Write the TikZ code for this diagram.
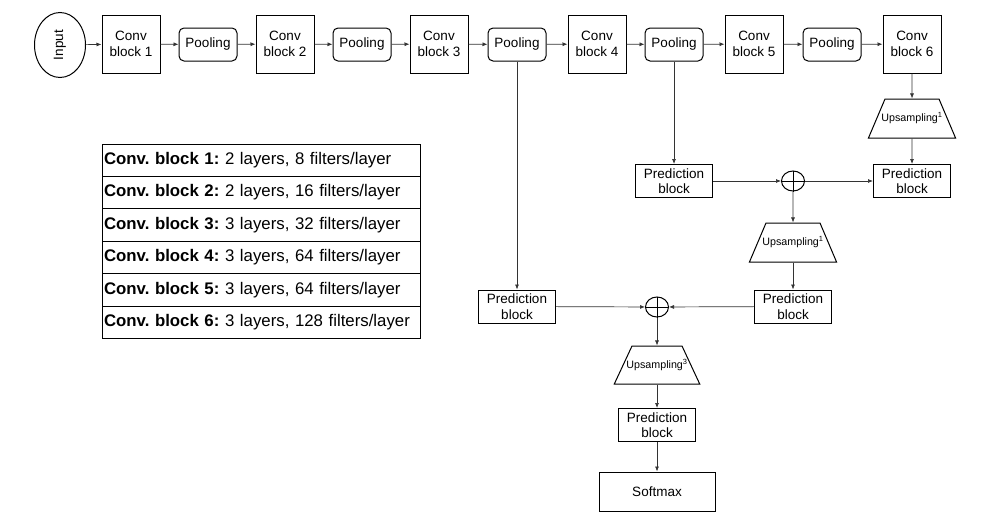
\documentclass[tikz,border=0pt]{standalone}
\usepackage{fontspec}
\setmainfont{Liberation Sans}
\usetikzlibrary{shapes.geometric,arrows.meta}
\frenchspacing
\begin{document}
\begin{tikzpicture}[x=1pt,y=-1pt,
	convstyle/.style={draw,line width=1pt,minimum width=58,minimum height=58,inner sep=0,align=center,font=\fontsize{13.5}{15.6}\selectfont},
	poolstyle/.style={draw,line width=1pt,rounded corners=5,minimum width=58,minimum height=33,inner sep=0,font=\fontsize{13.5}{15.6}\selectfont},
	predstyle/.style={draw,line width=1pt,minimum width=77,minimum height=33,inner sep=0,align=center,font=\fontsize{13.5}{15.6}\selectfont},
	upstyle/.style={draw,line width=1pt,trapezium,trapezium angle=67,inner xsep=0,inner ysep=14,text height=8.5pt,text depth=2.5pt,font=\fontsize{10.7}{12}\selectfont},
	sumstyle/.style={draw,line width=1pt,ellipse,minimum width=23,minimum height=20,inner sep=0},
	rowstyle/.style={draw,line width=0.9pt,minimum height=32.4,text width=314,inner xsep=2,inner ysep=0,align=left,font=\fontsize{16.8}{18}\selectfont},
	arr/.style={-{Latex[length=5pt,width=4pt]},line width=0.7pt,black!80}]
	\useasboundingbox (0,0) rectangle (996,530);

	\node [draw,line width=1pt,ellipse,minimum width=51,minimum height=65,inner sep=0] (in) at (60,45)
		{\rotatebox{90}{\fontsize{13.5}{15.6}\selectfont Input}};
	\foreach \i/\x in {1/131,2/285,3/439,4/597,5/754,6/912}
		\node [convstyle] (c\i) at (\x,44) {Conv\\block \i};
	\foreach \i/\x in {1/208,2/362,3/517,4/674,5/832}
		\node [poolstyle] (p\i) at (\x,44.5) {Pooling};

	\draw [arr] (in) -- (c1);
	\foreach \i [count=\j from 2] in {1,...,5}
		\draw [arr] (c\i) -- (p\i);
	\foreach \i [count=\j from 2] in {1,...,5}
		\draw [arr] (p\i) -- (c\j);

	% decoder side
	\node [upstyle] (up1) at (912,118.5) {\makebox[54pt]{Upsampling\textsuperscript{1}}};
	\node [predstyle] (pr1) at (912,181) {Prediction\\block};
	\node [predstyle] (pm) at (674,181) {Prediction\\block};
	\node [sumstyle] (s1) at (793,181) {};
	\node [upstyle] (up2) at (793,242.5) {\makebox[54pt]{Upsampling\textsuperscript{1}}};
	\node [predstyle] (pr2) at (793,306.5) {Prediction\\block};
	\node [predstyle] (pl) at (517,306.5) {Prediction\\block};
	\node [sumstyle] (s2) at (657,307) {};
	\node [upstyle,trapezium angle=65,inner ysep=13.5] (up3) at (657,365) {\makebox[50pt]{Upsampling\textsuperscript{3}}};
	\node [predstyle] (pb) at (657,425) {Prediction\\block};
	\node [draw,line width=1pt,minimum width=116,minimum height=39,inner sep=0,font=\fontsize{13.5}{15.6}\selectfont] (sm) at (657,491.5) {Softmax};

	\foreach \s in {s1,s2}
		\draw [line width=1pt] (\s.north) -- (\s.south) (\s.west) -- (\s.east);

	\draw [arr] (c6) -- (up1);
	\draw [arr] (up1) -- (pr1);
	\draw [arr] (p4) -- (pm);
	\draw [arr] (pm) -- (s1);
	\draw [arr] (s1) -- (pr1);
	\draw [arr] (s1) -- (up2);
	\draw [arr] (up2) -- (pr2);
	\draw [arr] (p3) -- (pl);
	\draw [arr] (pl) -- (s2);
	\draw [arr] (pr2) -- (s2);
	\draw [arr] (s2) -- (up3);
	\draw [arr] (up3) -- (pb);
	\draw [arr] (pb) -- (sm);

	% table of conv blocks
	\foreach \i/\l/\f in {1/2/8,2/2/16,3/3/32,4/3/64,5/3/64,6/3/128}
		\node [rowstyle] (t\i) at (261,144+16.2+32.4*\i-32.4) {\textbf{Conv. block \i:} \l{} layers, \f{} filters/layer};
\end{tikzpicture}
\end{document}
